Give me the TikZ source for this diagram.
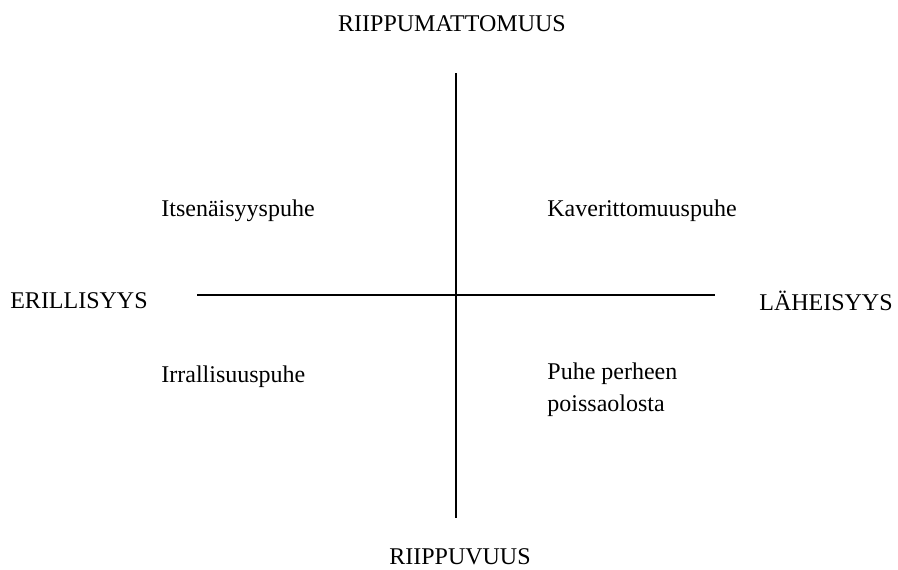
\documentclass[tikz,border=0pt]{standalone}
\usepackage{fontspec}
\setmainfont{Liberation Serif}
\usetikzlibrary{positioning}

\begin{document}
\begin{tikzpicture}[x=0.5pt, y=-0.5pt,
    every node/.style={font=\rmfamily\fontsize{12}{16}\selectfont, inner sep=0pt},
    axislabel/.style={anchor=center},
    quadlabel/.style={anchor=west, align=left}]
    % page frame
    \useasboundingbox (0,0) rectangle (898,569);

    % axis ends
    \coordinate (top) at (456,73);
    \coordinate (bottom) at (456,518);
    \coordinate (left) at (197,295);
    \coordinate (right) at (715,295);

    % axes
    \draw[line width=1pt] (top) -- (bottom);
    \draw[line width=1pt] (left) -- (right);

    % axis labels
    \node[axislabel] (riippumattomuus) at (452,24) {RIIPPUMATTOMUUS};
    \node[axislabel] (riippuvuus) at (460,557) {RIIPPUVUUS};
    \node[axislabel] (erillisyys) at (79,301) {ERILLISYYS};
    \node[axislabel] (laheisyys) at (826,301) {LÄHEISYYS};

    % quadrants
    \node[quadlabel] (itsenaisyys) at (161,211) {Itsenäisyyspuhe};
    \node[quadlabel] (kaverittomuus) at (547,211) {Kaverittomuuspuhe};
    \node[quadlabel] (irrallisuus) at (161,377) {Irrallisuuspuhe};
    \node[quadlabel] (perhe) at (547,390) {Puhe perheen\\poissaolosta};
\end{tikzpicture}
\end{document}
